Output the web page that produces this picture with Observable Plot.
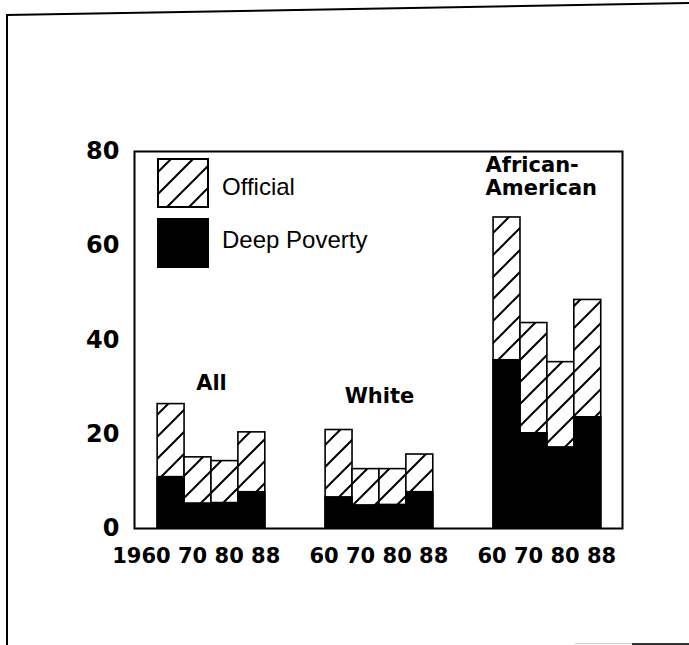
<!DOCTYPE html>
<html>
<head>
<meta charset="utf-8">
<script src="https://cdn.jsdelivr.net/npm/d3@7"></script>
<script src="https://cdn.jsdelivr.net/npm/@observablehq/plot@0.6"></script>
<style>
  body { margin: 0; background: #fff; }
  #page { position: relative; width: 689px; height: 645px; overflow: hidden; background: #fff; }
  #page > svg { position: absolute; left: 0; top: 0; }
  .edge { position: absolute; background: #000; }
</style>
</head>
<body>
<div id="page"></div>
<script>
// ---------------- data ----------------
const groups = ["All", "White", "African-American"];
const groupLabels = ["All", "White", "African-\nAmerican"];
const years = [1960, 1970, 1980, 1988];
const yearTickLabels = [
  ["1960", "70", "80", "88"],
  ["60", "70", "80", "88"],
  ["60", "70", "80", "88"]
];
const officialAll = [26.4, 15.1, 14.3, 20.4];
const officialWhite = [20.9, 12.6, 12.6, 15.7];
const officialAfricanAmerican = [66.0, 43.6, 35.3, 48.5];
const deepAll = [10.9, 5.3, 5.4, 7.7];
const deepWhite = [6.6, 4.9, 5.0, 7.7];
const deepAfricanAmerican = [35.7, 20.2, 17.2, 23.6];
const yTicks = [0, 20, 40, 60, 80];
const seriesNames = ["Official", "Deep Poverty"];

// ---------------- layout (not data) ----------------
const W = 689, H = 645;
const GROUP_STRIDE = 6.24;            // in bar widths
const X_DOMAIN = [-0.86, 17.27];
const labelDy = [-14, -27, -22];
const labelAnchor = ["middle", "middle", "start"];
const labelDx = [0, 0, -8];
const boldFont = "'DejaVu Sans', sans-serif";
const plainFont = "'Liberation Sans', Arial, sans-serif";

const officialByGroup = [officialAll, officialWhite, officialAfricanAmerican];
const deepByGroup = [deepAll, deepWhite, deepAfricanAmerican];

const bars = [];
groups.forEach((g, gi) => {
  years.forEach((yr, i) => {
    bars.push({
      group: g, year: yr,
      official: officialByGroup[gi][i],
      deep: deepByGroup[gi][i],
      x1: gi * GROUP_STRIDE + i,
      x2: gi * GROUP_STRIDE + i + 1
    });
  });
});

const groupRows = groups.map((g, gi) => ({
  group: g,
  label: groupLabels[gi],
  ticks: yearTickLabels[gi].join(" "),
  left: gi * GROUP_STRIDE,
  center: gi * GROUP_STRIDE + years.length / 2,
  right: gi * GROUP_STRIDE + years.length,
  top: d3.max(officialByGroup[gi]),
  gi
}));

const groupLabelMarks = groupRows.map(r => Plot.text([r], {
  x: r.gi === 2 ? "left" : "center",
  y: "top",
  text: "label",
  textAnchor: labelAnchor[r.gi],
  lineAnchor: "bottom",
  lineHeight: 1.1,
  dx: labelDx[r.gi],
  dy: labelDy[r.gi],
  fontSize: 21,
  fontWeight: "bold",
  fontFamily: boldFont,
  fill: "black"
}));

const chart = Plot.plot({
  width: W,
  height: H,
  marginLeft: 134,
  marginRight: 67,
  marginTop: 151,
  marginBottom: 117,
  style: { background: "transparent", color: "black", overflow: "visible" },
  x: { type: "linear", domain: X_DOMAIN, axis: null },
  y: { domain: [0, 80], axis: null },
  marks: [
    Plot.rectY(bars, { x1: "x1", x2: "x2", y1: 0, y2: "official", fill: "url(#hatch)", stroke: "black", strokeWidth: 1.6 }),
    Plot.rectY(bars, { x1: "x1", x2: "x2", y1: 0, y2: "deep", fill: "black", stroke: "black", strokeWidth: 1.6 }),
    Plot.axisY({
      ticks: yTicks, tickSize: 0, tickPadding: 15,
      fontSize: 24, fontWeight: "bold", fontFamily: boldFont, label: null
    }),
    Plot.text(groupRows, {
      x: "right", y: 0, text: "ticks",
      textAnchor: "end", lineAnchor: "bottom",
      dx: 15, dy: 34,
      fontSize: 21, fontWeight: "bold", fontFamily: boldFont, fill: "black"
    }),
    ...groupLabelMarks,
    Plot.frame({ stroke: "black", strokeWidth: 2 })
  ]
});

// hatch pattern
const svg = d3.select(chart);
const defs = svg.insert("defs", ":first-child");
const pat = defs.append("pattern")
  .attr("id", "hatch")
  .attr("patternUnits", "userSpaceOnUse")
  .attr("width", 22).attr("height", 22);
pat.append("rect").attr("width", 22).attr("height", 22).attr("fill", "white");
pat.append("path")
  .attr("d", "M0,22 L22,0 M-11,11 L11,-11 M11,33 L33,11")
  .attr("stroke", "black").attr("stroke-width", 2);

// legend (inside plot area, upper left)
const leg = svg.append("g").attr("class", "legend").attr("text-anchor", "start");
const legendItems = [
  { name: seriesNames[0], fill: "url(#hatch)", top: 159, textY: 195 },
  { name: seriesNames[1], fill: "black", top: 219, textY: 248 }
];
legendItems.forEach(it => {
  leg.append("rect")
    .attr("x", 158).attr("y", it.top)
    .attr("width", 50).attr("height", 48)
    .attr("fill", it.fill).attr("stroke", "black").attr("stroke-width", 2);
  leg.append("text")
    .attr("x", 222).attr("y", it.textY)
    .attr("text-anchor", "start")
    .attr("font-family", plainFont).attr("font-size", 24)
    .attr("fill", "black")
    .text(it.name);
});

const page = document.getElementById("page");
page.appendChild(chart);

// scanned page edges
function edge(style) {
  const d = document.createElement("div");
  d.className = "edge";
  Object.assign(d.style, style);
  page.appendChild(d);
}
edge({ left: "6px", top: "15px", width: "2px", height: "640px" });
edge({ left: "6px", top: "14px", width: "700px", height: "2px", transformOrigin: "0 0", transform: "rotate(-1deg)" });
edge({ left: "575px", top: "643px", width: "57px", height: "1px", background: "#ccc" });
edge({ left: "632px", top: "643px", width: "57px", height: "2px", background: "#333" });
</script>
</body>
</html>
